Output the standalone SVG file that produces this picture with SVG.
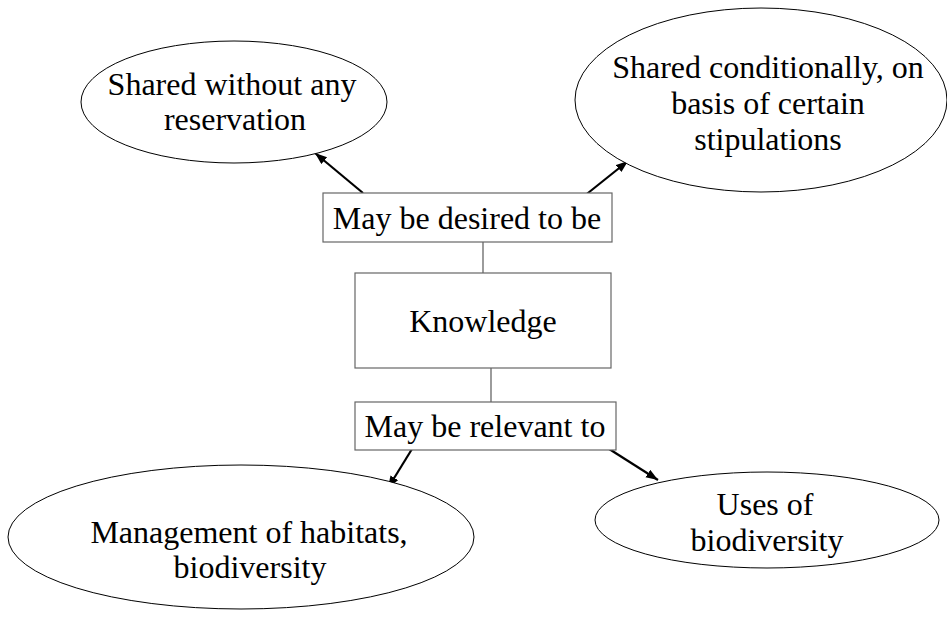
<svg xmlns="http://www.w3.org/2000/svg" width="947" height="617" viewBox="0 0 947 617">
<defs>
<marker id="ah" markerUnits="userSpaceOnUse" markerWidth="14" markerHeight="10" refX="12" refY="4.5" orient="auto">
<path d="M0,0 L12,4.5 L0,9 z" fill="#000"/>
</marker>
</defs>
<style>
text{font-size:32px;fill:#000;text-anchor:middle}
.ell{fill:#fff;stroke:#000;stroke-width:1}
.box{fill:#fff;stroke:#666;stroke-width:1.2}
.arr{stroke:#000;stroke-width:2.2;fill:none;marker-end:url(#ah)}
.ln{stroke:#666;stroke-width:1.3;fill:none}
</style>
<rect width="947" height="617" fill="#fff"/>
<g id="connectors">
<line class="arr" x1="363" y1="193" x2="315" y2="153"/>
<line class="arr" x1="578" y1="201" x2="628" y2="161"/>
<line class="ln" x1="483" y1="242" x2="483" y2="273"/>
<line class="ln" x1="491" y1="368" x2="491" y2="402"/>
<line class="arr" x1="412" y1="449" x2="388" y2="488"/>
<line class="arr" x1="595" y1="440" x2="658" y2="480"/>
</g>
<g id="shared-without" font-family="Liberation Serif">
<ellipse class="ell" cx="234" cy="102" rx="153" ry="61"/>
<text x="232" y="95">Shared without any</text>
<text x="235" y="130">reservation</text>
</g>
<g id="shared-conditionally" font-family="Liberation Serif">
<ellipse class="ell" cx="761" cy="100" rx="186" ry="92"/>
<text x="768" y="78">Shared conditionally, on</text>
<text x="768" y="114">basis of certain</text>
<text x="768" y="150">stipulations</text>
</g>
<g id="desired" font-family="Liberation Serif">
<rect class="box" x="323" y="193" width="289" height="49"/>
<text x="467" y="229">May be desired to be</text>
</g>
<g id="knowledge" font-family="Liberation Serif">
<rect class="box" x="355" y="273" width="256" height="95"/>
<text x="483" y="332">Knowledge</text>
</g>
<g id="relevant" font-family="Liberation Serif">
<rect class="box" x="355" y="402" width="261" height="48"/>
<text x="485" y="437">May be relevant to</text>
</g>
<g id="management" font-family="Liberation Serif">
<ellipse class="ell" cx="241" cy="537" rx="233" ry="72"/>
<text x="249" y="543">Management of habitats,</text>
<text x="250" y="578">biodiversity</text>
</g>
<g id="uses" font-family="Liberation Serif">
<ellipse class="ell" cx="767" cy="520" rx="172" ry="48"/>
<text x="765" y="515">Uses of</text>
<text x="767" y="551">biodiversity</text>
</g>
</svg>
